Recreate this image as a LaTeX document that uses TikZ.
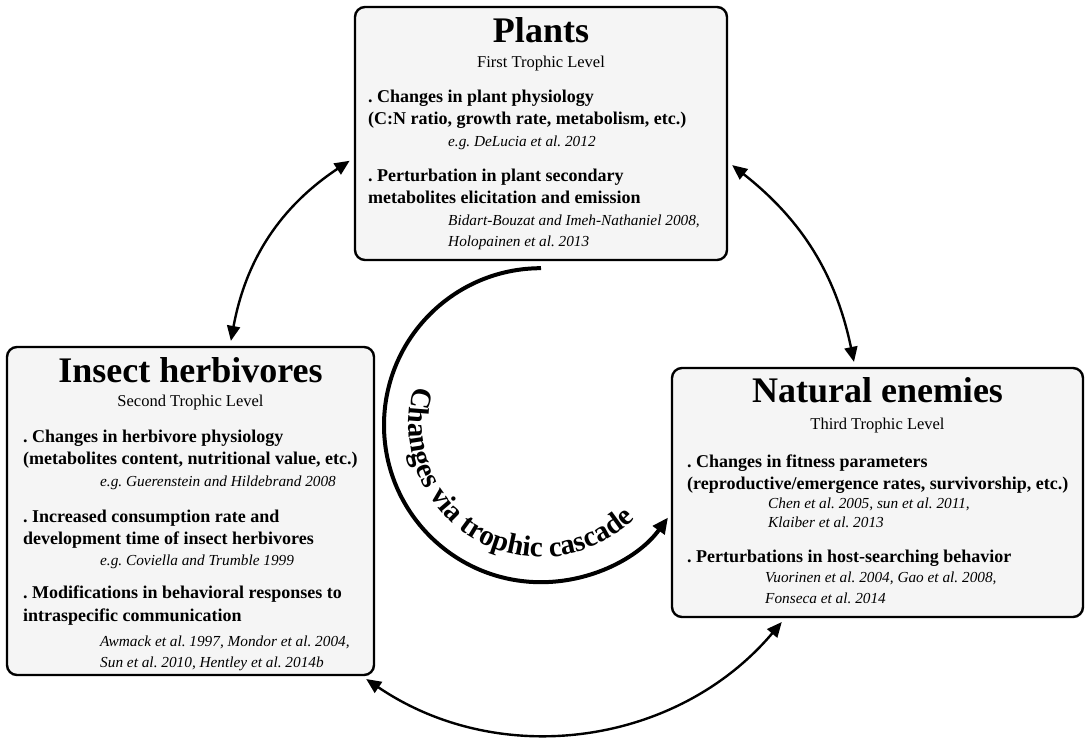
\documentclass[tikz,border=0pt]{standalone}
\usepackage{fontspec}
\setmainfont{Liberation Serif}
\usetikzlibrary{arrows.meta,decorations.text}
\definecolor{boxfill}{RGB}{245,245,245}
\frenchspacing

\tikzset{
	foodweb/.style={
			x=1pt, y=1pt,
			level box/.style={draw, line width=2.4pt, rounded corners=10pt, fill=boxfill, inner sep=0pt},
			level title/.style={font=\fontsize{36}{42}\selectfont\bfseries, anchor=base, inner sep=0pt},
			level sub/.style={font=\fontsize{16.5}{20}\selectfont, anchor=base, inner sep=0pt},
			effect/.style={font=\fontsize{18}{22}\selectfont\bfseries, anchor=base west, align=left, inner sep=0pt},
			refs/.style={font=\fontsize{15.3}{21}\selectfont\itshape, anchor=base west, align=left, inner sep=0pt},
			link/.style={line width=2.4pt, {Triangle[length=15pt,width=13pt]}-{Triangle[length=15pt,width=13pt]}, shorten <=5pt, shorten >=5pt},
			cascade/.style={line width=4pt, -{Triangle[length=16pt,width=14pt]}},
		}
}

\begin{document}
\begin{tikzpicture}[foodweb]
		\useasboundingbox (0,0) rectangle (1085,737);
		\node[level box, minimum width=372, minimum height=253] (pla) at (541,603.5) {};
		\node[level box, minimum width=367, minimum height=328] (ins) at (190.5,226) {};
		\node[level box, minimum width=411, minimum height=249] (nat) at (877.5,244.5) {};

		\node[level title] (pla-t) at (541,694) {Plants};
		\node[level sub] (pla-s) at (541,669) {First Trophic Level};
		\node[effect] (pla-a) at (368,612) {. Changes in plant physiology\\(C:N ratio, growth rate, metabolism, etc.)};
		\node[refs] (pla-ar) at (448,590) {e.g. DeLucia et al. 2012};
		\node[effect] (pla-b) at (368,533) {. Perturbation in plant secondary\\metabolites elicitation and emission};
		\node[refs] (pla-br) at (448,490) {Bidart-Bouzat and Imeh-Nathaniel 2008,\\Holopainen et al. 2013};

		\node[level title] (ins-t) at (190.5,354) {Insect herbivores};
		\node[level sub] (ins-s) at (190.5,330) {Second Trophic Level};
		\node[effect] (ins-a) at (23,272) {. Changes in herbivore physiology\\(metabolites content, nutritional value, etc.)};
		\node[refs] (ins-ar) at (100,250) {e.g. Guerenstein and Hildebrand 2008};
		\node[effect] (ins-b) at (23,192) {. Increased consumption rate and\\development time of insect herbivores};
		\node[refs] (ins-br) at (100,171) {e.g. Coviella and Trumble 1999};
		\node[effect] (ins-c) at (23,116) {. Modifications in behavioral responses to\\intraspecific communication};
		\node[refs] (ins-cr) at (100,70) {Awmack et al. 1997, Mondor et al. 2004,\\Sun et al. 2010, Hentley et al. 2014b};

		\node[level title] (nat-t) at (877.5,334) {Natural enemies};
		\node[level sub] (nat-s) at (877.5,307) {Third Trophic Level};
		\node[effect] (nat-a) at (687,247) {. Changes in fitness parameters\\(reproductive/emergence rates, survivorship, etc.)};
		\node[refs, font=\fontsize{15.3}{19}\selectfont\itshape] (nat-ar) at (768,209) {Chen et al. 2005, sun et al. 2011,\\Klaiber et al. 2013};
		\node[effect] (nat-b) at (687,174) {. Perturbations in host-searching behavior};
		\node[refs] (nat-br) at (765,133) {Vuorinen et al. 2004, Gao et al. 2008,\\Fonseca et al. 2014};

		\draw[link] ([xshift=39.5]ins.north) to[bend left=23] ([yshift=-24.5]pla.west);
		\draw[link] ([yshift=-28.5]pla.east) to[bend left=20] ([xshift=-22.5]nat.north);
		\draw[link] ([xshift=171.5]ins.south) to[bend right=42] ([xshift=-92.5]nat.south);

		\coordinate (cas) at ([yshift=-164]pla.south);
		\draw[cascade] ([yshift=-7]pla.south) arc[start angle=90, end angle=324, radius=157];
		\path[decorate, decoration={text along path, text align=center, text format delimiters={|}{|},
				text={|\fontsize{29}{31}\selectfont\bfseries|Changes via trophic cascade}}]
			(cas) ++(150:132) arc[start angle=150, end angle=328, radius=132];
	\end{tikzpicture}
\end{document}
